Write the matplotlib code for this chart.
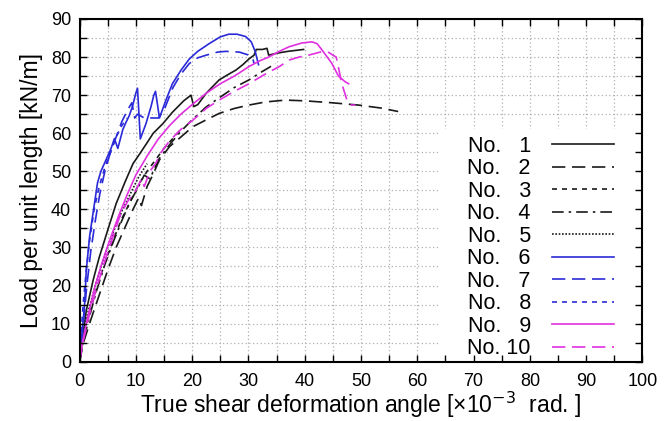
import matplotlib
matplotlib.use("Agg")
import matplotlib.pyplot as plt
import matplotlib.patches as patches
from matplotlib.ticker import MultipleLocator

plt.rcParams['font.family'] = ['Liberation Sans', 'DejaVu Sans']

# Load - shear angle curves
x1 = [0, 0.4, 1.2, 2.4, 3.5, 5.0, 6.5, 8.2, 9.5, 10.7, 12.0, 13.1, 14.8, 16.5, 18.5, 19.8, 20.3, 21.0,
      22.5, 24.8, 26.5, 27.8, 29.0, 30.1, 31.0, 31.4, 32.5, 33.3, 33.6, 35.0, 37.0, 39.8]
y1 = [0, 5, 13.4, 21.3, 27.4, 34.5, 41.5, 47.6, 52, 54.6, 57.5, 60, 62.5, 65.5, 68.5, 70, 67, 67.5,
      70.5, 74, 75.5, 76.6, 78, 79.5, 80.5, 82, 82, 82.3, 80.5, 81, 81.5, 82]

x2 = [0, 0.7, 2.0, 3.5, 5.0, 6.5, 8.0, 9.5, 10.5, 11.0, 12.0, 13.0, 14.2, 16.0, 18.0, 20.1, 22.5,
      24.8, 27.5, 30.1, 33.0, 36.6, 40.1, 44.8, 49.5, 53.6, 56.6]
y2 = [0, 5, 11, 17.5, 24, 30, 35, 40, 43, 41, 46, 49, 53, 56.5, 59, 61.7, 63.5,
      65.2, 66.5, 67.4, 68.2, 68.7, 68.5, 68, 67.4, 66.6, 65.7]

x3 = [0, 0.5, 1.5, 3.0, 4.5, 6.0, 7.5, 9.0, 10.5, 12.0, 13.5, 15.0, 16.5, 18.0]
y3 = [0, 5, 11.5, 19, 26, 32, 37.5, 42, 46.5, 50, 53, 56, 58.5, 61]

x4 = [0, 0.6, 1.8, 3.0, 4.5, 6.0, 7.5, 9.0, 10.5, 11.5, 12.5, 14.0, 16.0, 18.0, 20.0, 22.5, 25.0,
      27.5, 30.1, 32.0, 33.6, 34.8]
y4 = [0, 5, 12, 18.5, 25.5, 31.5, 37, 42, 46, 49, 48, 53, 57, 60.5, 63.5, 66.9, 69.5,
      72, 74, 75.8, 77.2, 78.3]

x5 = [0, 0.5, 1.5, 3.0, 4.5, 6.0, 7.5, 9.0, 10.5, 12.0]
y5 = [0, 6, 13, 21, 28, 34, 39.5, 44, 48.5, 52]

x6 = [0, 0.3, 0.6, 0.9, 1.2, 1.8, 2.4, 3.2, 3.8, 4.7, 5.6, 6.2, 6.8, 7.7, 8.3, 8.8, 9.4, 10.0, 10.3,
      10.8, 11.8, 12.7, 13.2, 13.5, 14.2, 15.3, 16.5, 18.0, 19.5, 21.0, 23.0, 25.0, 26.5, 28.0,
      29.5, 30.5, 31.2, 31.8]
y6 = [0, 5, 10, 15, 24, 33, 39, 47, 50, 53, 56, 58.6, 56, 61, 63, 64.5, 67, 70.5, 71.8,
      58.5, 62.5, 67, 70, 71, 64, 68.5, 73, 76.5, 79.5, 81.5, 83.5, 85.3, 86, 86,
      85.4, 84, 81.5, 78]

x7 = [0, 0.4, 0.8, 1.3, 2.0, 2.8, 3.6, 4.5, 5.5, 6.5, 7.5, 8.5, 9.3, 9.8, 10.3, 11.5, 12.5, 13.3,
      14.0, 15.0, 16.6, 18.0, 19.5, 21.0, 22.5, 24.5, 26.0, 28.4, 30.1, 30.8, 31.0]
y7 = [0, 6, 12, 20, 29, 37, 44, 50, 55, 59, 63, 66, 68, 64, 65, 64, 64, 64,
      64, 66, 72, 75.5, 78.3, 79.8, 80.5, 81.3, 81.5, 81.3, 80.5, 79.5, 78.3]

x8 = [0, 0.3, 0.7, 1.2, 1.8, 2.6, 3.5, 4.5, 5.5, 6.5, 7.5, 8.5]
y8 = [0, 8, 16, 24, 32, 40, 46, 51, 55, 59, 62, 64]

x9 = [0, 0.5, 1.5, 2.7, 4.0, 5.5, 7.0, 8.5, 10.0, 12.0, 14.0, 16.0, 18.0, 20.0, 22.5, 25.0, 27.5,
      30.1, 32.0, 33.6, 35.5, 37.2, 39.5, 41.3, 42.2, 43.0, 44.0, 44.8, 46.0, 47.2, 47.8]
y9 = [0, 5, 12, 19.5, 26, 32.5, 38.5, 44, 49, 54, 58.5, 62, 65, 67.5, 70.5, 73, 75,
      77.5, 79, 80, 81.5, 82.7, 83.7, 84, 83.5, 82, 80, 78.4, 75, 73.5, 73]

x10 = [0, 0.6, 1.7, 2.9, 4.7, 6.0, 7.1, 8.5, 10.0, 11.0, 11.5, 12.5, 13.5, 14.5, 16.0, 18.0, 20.1,
       22.5, 24.8, 27.5, 30.1, 33.3, 35.5, 37.2, 39.0, 40.7, 43.0, 44.3, 45.0, 45.6, 46.6, 47.5,
       48.3, 49.0]
y10 = [0, 5, 12, 18.7, 27.4, 33, 38, 42, 45, 48, 46, 50, 52, 55, 58, 61, 63.4,
       66.5, 68.7, 71, 73, 75.8, 77.5, 79.2, 80, 80.5, 81.4, 81.2, 80.5, 80, 73, 68.7,
       67.4, 67.4]

# figure space keeps the single digits lined up with "10"
labels = ["No. \u20071", "No. \u20072", "No. \u20073", "No. \u20074", "No. \u20075",
          "No. \u20076", "No. \u20077", "No. \u20078", "No. \u20079", "No. 10"]

BLACK = '#1a1a1a'
BLUE = '#2a2ad8'
MAGENTA = '#e030e0'

series = [
    (x1, y1, BLACK, '-'),
    (x2, y2, BLACK, (0, (8, 4))),
    (x3, y3, BLACK, (0, (3, 3))),
    (x4, y4, BLACK, (0, (7, 3, 1.5, 3))),
    (x5, y5, BLACK, (0, (1, 1))),
    (x6, y6, BLUE, '-'),
    (x7, y7, BLUE, (0, (8, 4))),
    (x8, y8, BLUE, (0, (3, 3))),
    (x9, y9, MAGENTA, '-'),
    (x10, y10, MAGENTA, (0, (8, 4))),
]

fig = plt.figure(figsize=(6.66, 4.21), dpi=100)
ax = fig.add_axes([0.1194, 0.1409, 0.8453, 0.814])

for (xs, ys, c, ls), lab in zip(series, labels):
    ax.plot(xs, ys, color=c, linestyle=ls, linewidth=1.2, label=lab, zorder=2)

ax.set_xlim(0, 100)
ax.set_ylim(0, 90)
ax.xaxis.set_major_locator(MultipleLocator(10))
ax.xaxis.set_minor_locator(MultipleLocator(5))
ax.yaxis.set_major_locator(MultipleLocator(10))
ax.yaxis.set_minor_locator(MultipleLocator(5))
ax.grid(True, which='both', linestyle=(0, (1, 2)), color='#b0b0b0', linewidth=0.9)
ax.tick_params(which='both', direction='in', length=0, labelsize=13)
ax.tick_params(axis='x', pad=8)
ax.tick_params(axis='y', pad=6)
for s in ax.spines.values():
    s.set_visible(False)

ax.set_xlabel("True shear deformation angle [×10$^{-3}$  rad. ]", fontsize=16.5, labelpad=0)
ax.set_ylabel("Load per unit length [kN/m]", fontsize=16.5, labelpad=6)

# white block behind the legend hides the grid
ax.add_patch(patches.Rectangle((0.64, 0.005), 0.35, 0.675, transform=ax.transAxes,
                               facecolor='white', edgecolor='none', zorder=3))

leg = ax.legend(loc='center', bbox_to_anchor=(0.819, 0.333), frameon=False, fontsize=15.5,
                markerfirst=False, handlelength=2.85, handletextpad=1.0, labelspacing=0.07,
                borderpad=0)
leg.set_zorder(5)

# overlay axes for spines and inward ticks on all sides
ov = fig.add_axes(ax.get_position(), facecolor='none', zorder=10)
ov.set_xlim(0, 100)
ov.set_ylim(0, 90)
ov.xaxis.set_major_locator(MultipleLocator(5))
ov.yaxis.set_major_locator(MultipleLocator(5))
ov.tick_params(direction='in', length=5, width=1, top=True, right=True,
               labelbottom=False, labelleft=False)
for s in ov.spines.values():
    s.set_linewidth(1.5)

fig.savefig("out.png", dpi=100)
